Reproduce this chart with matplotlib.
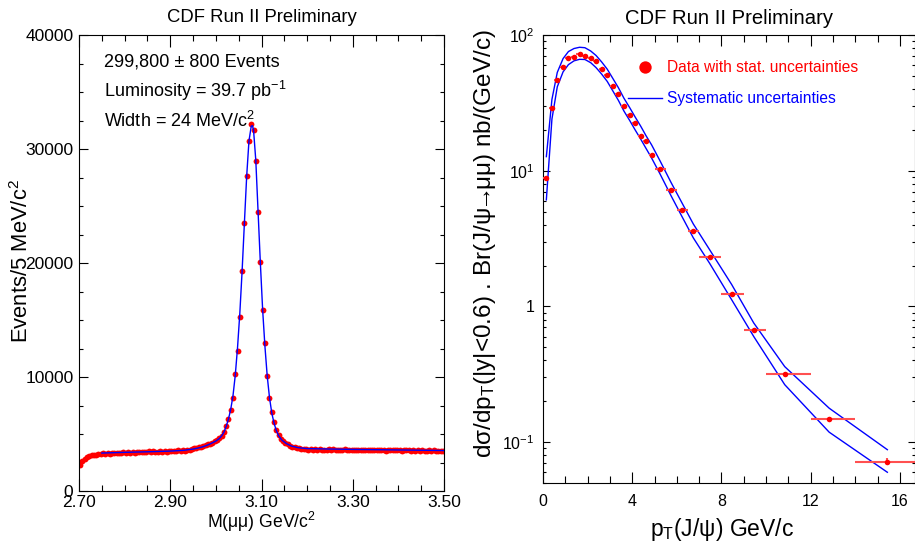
import numpy as np
import matplotlib.pyplot as plt
from matplotlib.ticker import MultipleLocator, FixedLocator, FixedFormatter, LogLocator, NullFormatter
from matplotlib.lines import Line2D

plt.rcParams['font.family'] = ['Liberation Sans', 'DejaVu Sans']
plt.rcParams['mathtext.fontset'] = 'custom'
plt.rcParams['mathtext.rm'] = 'Liberation Sans'
plt.rcParams['mathtext.it'] = 'Liberation Sans:italic'
plt.rcParams['mathtext.default'] = 'regular'

# ---- left panel: dimuon mass spectrum, 5 MeV bins from 2.70 to 3.50 ----
mass_lo, bin_w = 2.70, 0.005
counts = [
    2250, 2620, 2850, 2980, 3060, 3120, 3180, 3150, 3240, 3210,
    3290, 3250, 3330, 3270, 3340, 3300, 3370, 3310, 3360, 3400,
    3340, 3400, 3370, 3450, 3360, 3420, 3460, 3400, 3440, 3380,
    3470, 3420, 3480, 3410, 3460, 3500, 3440, 3490, 3460, 3520,
    3480, 3530, 3500, 3560, 3520, 3580, 3550, 3610, 3640, 3690,
    3740, 3790, 3840, 3880, 3940, 4000, 4080, 4160, 4250, 4350,
    4480, 4620, 4800, 5200, 5700, 6340, 7130, 8200, 10280, 12300,
    15280, 19310, 23520, 27660, 30730, 32170, 31670, 28980, 24460, 20130,
    15920, 12940, 10080, 8150, 6890, 6050, 5350, 4900, 4600, 4350,
    4200, 4080, 3980, 3900, 3840, 3780, 3740, 3700, 3680, 3660,
    3620, 3660, 3600, 3650, 3610, 3670, 3590, 3640, 3620, 3660,
    3600, 3650, 3580, 3640, 3610, 3590, 3650, 3570, 3630, 3600,
    3640, 3580, 3620, 3590, 3630, 3570, 3610, 3600, 3560, 3620,
    3580, 3610, 3570, 3600, 3550, 3620, 3580, 3560, 3600, 3570,
    3590, 3550, 3610, 3560, 3580, 3540, 3600, 3550, 3570, 3530,
    3580, 3550, 3520, 3570, 3540, 3560, 3510, 3550, 3530, 3500,
]
mass = mass_lo + bin_w * (np.arange(len(counts)) + 0.5)

fit_mass = [2.75, 2.80, 2.85, 2.90, 2.93, 2.95, 2.96, 2.97, 2.98, 2.99, 3.00,
            3.0075, 3.0125, 3.0175, 3.0225, 3.0275, 3.0325, 3.0375, 3.0425,
            3.0475, 3.0525, 3.0575, 3.0625, 3.0675, 3.0725, 3.0775, 3.0800,
            3.0825, 3.0875, 3.0925, 3.0975, 3.1025, 3.1075, 3.1125, 3.1175,
            3.1225, 3.1275, 3.1325, 3.1375, 3.145, 3.155, 3.165, 3.18, 3.20,
            3.25, 3.30, 3.40, 3.50]
fit_counts = [3330, 3390, 3440, 3500, 3570, 3680, 3760, 3860, 4000, 4180, 4380,
              4600, 4830, 5150, 5650, 6300, 7150, 8350, 10150,
              12600, 15600, 19300, 23500, 27600, 30700, 32000, 32050,
              31700, 29000, 24500, 20000, 15900, 12700, 10100, 8200,
              6850, 5950, 5300, 4850, 4450, 4150, 3950, 3800, 3720,
              3680, 3650, 3600, 3550]

# ---- right panel: J/psi pT differential cross section ----
pt_edges = [0.0, 0.25, 0.5, 0.75, 1.0, 1.25, 1.5, 1.75, 2.0, 2.25, 2.5, 2.75,
            3.0, 3.25, 3.5, 3.75, 4.0, 4.25, 4.5, 4.75, 5.0, 5.5, 6.0, 6.5,
            7.0, 8.0, 9.0, 10.0, 12.0, 14.0, 17.0]
pt = [0.15, 0.40, 0.64, 0.90, 1.14, 1.39, 1.64, 1.88, 2.14, 2.38, 2.63, 2.88,
      3.12, 3.38, 3.63, 3.89, 4.13, 4.38, 4.62, 4.87, 5.25, 5.74, 6.23, 6.74,
      7.47, 8.46, 9.45, 10.84, 12.83, 15.44]
xsec = [8.9, 29.1, 46.3, 58.0, 68.0, 68.9, 72.4, 70.0, 68.0, 64.3, 56.1, 50.7,
        42.4, 36.6, 30.0, 25.9, 22.5, 18.1, 16.5, 13.1, 10.3, 7.2, 5.13, 3.57,
        2.32, 1.24, 0.673, 0.320, 0.148, 0.072]
xsec_stat = [0.3, 0.6, 0.8, 0.9, 1.0, 1.0, 1.0, 1.0, 0.9, 0.9, 0.8, 0.7,
             0.6, 0.5, 0.4, 0.4, 0.3, 0.3, 0.3, 0.2, 0.15, 0.1, 0.08, 0.06,
             0.04, 0.025, 0.015, 0.008, 0.005, 0.004]
syst_up = [12.7, 33.5, 53.0, 67.0, 75.5, 79.5, 81.2, 80.6, 76.2, 70.6, 63.3, 56.0,
           48.2, 40.9, 34.2, 29.1, 24.9, 21.3, 18.1, 15.5, 11.8, 8.2, 5.8, 4.05,
           2.62, 1.45, 0.755, 0.36, 0.178, 0.088]
syst_lo = [6.1, 24.0, 41.5, 53.5, 60.5, 64.5, 66.2, 66.0, 62.5, 57.5, 51.5, 45.5,
           39.0, 33.0, 27.5, 23.4, 20.0, 17.1, 14.6, 12.4, 9.45, 6.55, 4.6, 3.2,
           2.08, 1.12, 0.60, 0.265, 0.1185, 0.060]

pt_arr = np.array(pt)
edges = np.array(pt_edges)
xerr = [pt_arr - edges[:-1], edges[1:] - pt_arr]

fig = plt.figure(figsize=(9.15, 5.44), dpi=100)
W, H = 915, 544

# left
ax1 = fig.add_axes([79 / W, 53 / H, 365 / W, 456 / H])
ax1.plot(mass, counts, 'o', color='red', ms=4.2, mec='none', zorder=2)
ax1.plot(fit_mass, fit_counts, color='blue', lw=1, zorder=3)
ax1.set_xlim(2.70, 3.50)
ax1.set_ylim(0, 40000)
ax1.xaxis.set_major_locator(FixedLocator([2.70, 2.90, 3.10, 3.30, 3.50]))
ax1.xaxis.set_major_formatter(FixedFormatter(['2.70', '2.90', '3.10', '3.30', '3.50']))
ax1.xaxis.set_minor_locator(MultipleLocator(0.05))
ax1.yaxis.set_major_locator(MultipleLocator(10000))
ax1.yaxis.set_minor_locator(MultipleLocator(2500))
ax1.tick_params(which='both', direction='in', top=True, right=True, width=0.8)
ax1.tick_params(axis='x', which='major', length=8.6, pad=3, labelsize=12.5)
ax1.tick_params(axis='x', which='minor', length=4.3)
ax1.tick_params(axis='y', which='major', length=6.5, pad=4, labelsize=12.5)
ax1.tick_params(axis='y', which='minor', length=3.2)
ax1.set_title('CDF Run II Preliminary', fontsize=13.3, pad=9)
ax1.set_xlabel('M(μμ) GeV/c$^{2}$', fontsize=12.7)
ax1.xaxis.set_label_coords(0.5, -0.042)
ax1.set_ylabel('Events/5 MeV/c$^{2}$', fontsize=15.8)
ax1.yaxis.set_label_coords(-0.125, 0.504)
info = ['299,800 ± 800 Events', 'Luminosity = 39.7 pb$^{-1}$', 'Width = 24 MeV/c$^{2}$']
for i, s in enumerate(info):
    ax1.text(0.0685, 0.930 - 0.066 * i, s, transform=ax1.transAxes, fontsize=13,
             va='baseline', ha='left')

# right
ax2 = fig.add_axes([543 / W, 61 / H, 372 / W, 448 / H])
ax2.plot(pt, syst_up, color='blue', lw=1, zorder=2)
ax2.plot(pt, syst_lo, color='blue', lw=1, zorder=2)
ax2.errorbar(pt, xsec, xerr=xerr, yerr=xsec_stat, fmt='none', ecolor='#ff5050',
             elinewidth=1.5, capsize=0, zorder=3)
ax2.plot(pt, xsec, 'o', color='red', ms=4, mec='none', zorder=4)
ax2.set_yscale('log')
ax2.set_xlim(0, 16.68)
ax2.set_ylim(0.05, 100)
ax2.xaxis.set_major_locator(MultipleLocator(4))
ax2.xaxis.set_minor_locator(MultipleLocator(1))
ax2.yaxis.set_major_locator(FixedLocator([0.1, 1, 10, 100]))
ax2.yaxis.set_major_formatter(FixedFormatter(['$10^{-1}$', '1', '$10^{1}$', '$10^{2}$']))
ax2.yaxis.set_minor_locator(LogLocator(base=10, subs=np.arange(2, 10)))
ax2.yaxis.set_minor_formatter(NullFormatter())
ax2.tick_params(which='both', direction='in', top=True, right=True, width=0.8)
ax2.tick_params(axis='x', which='major', length=8, pad=8, labelsize=11.5)
ax2.tick_params(axis='x', which='minor', length=4.8)
ax2.tick_params(axis='y', which='major', length=4.8, pad=6, labelsize=11.5)
ax2.tick_params(axis='y', which='minor', length=2.4)
ax2.set_title('CDF Run II Preliminary', fontsize=14.6, pad=8)
ax2.set_xlabel('p$_{T}$(J/ψ) GeV/c', fontsize=16.5)
ax2.xaxis.set_label_coords(0.482, -0.074)
ax2.set_ylabel('dσ/dp$_{T}$(|y|<0.6) . Br(J/ψ$\\!$→$\\!$μμ) nb/(GeV/c)', fontsize=17.5)
ax2.yaxis.set_label_coords(-0.122, 0.535)

handles = [Line2D([], [], marker='o', color='red', ls='none', ms=8.9, mec='none'),
           Line2D([], [], color='blue', lw=1)]
ax2.legend(handles, ['Data with stat. uncertainties', 'Systematic uncertainties'],
           labelcolor=['red', 'blue'], frameon=False, fontsize=11.2,
           loc='upper left', bbox_to_anchor=(0.2285, 0.944), borderpad=0,
           borderaxespad=0, handlelength=2.19, handletextpad=0.32, labelspacing=1.05)

fig.savefig('out.png', dpi=100)
